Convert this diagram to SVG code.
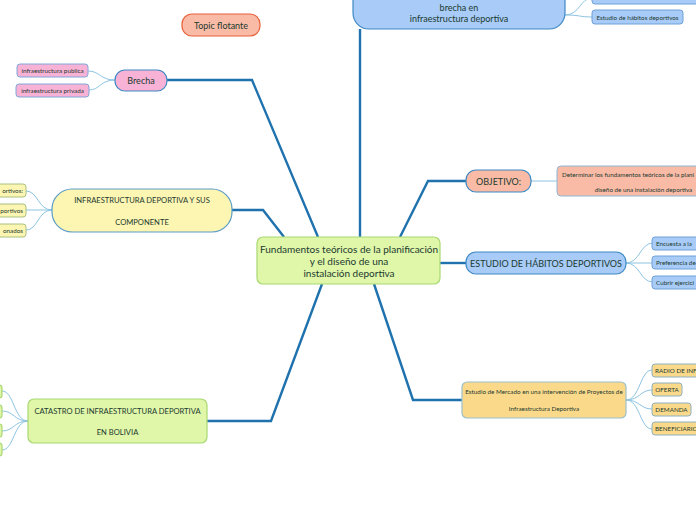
<svg xmlns="http://www.w3.org/2000/svg" width="696" height="520" viewBox="0 0 696 520">
<style>
text{font-family:Lato,"Open Sans","Liberation Sans",sans-serif;fill:#1b3a30;text-anchor:middle;dominant-baseline:central}
.m{font-size:9px}
.c{font-size:10px}
.s{font-size:6.3px}
.main{fill:none;stroke:#1f72ad;stroke-width:2.4;stroke-linejoin:miter}
.thin{fill:none;stroke:#8cc4e2;stroke-width:1}
.blue{fill:#a8cbf7;stroke:#3f89c4;stroke-width:1.2}
.pink{fill:#f8b2d6;stroke:#3f89c4;stroke-width:1.2}
.pinks{fill:#f8b2d6;stroke:#7fa8d8;stroke-width:1}
.yel{fill:#fdf5b2;stroke:#5a9cc8;stroke-width:1.2}
.yels{fill:#fdf5b2;stroke:#a8c080;stroke-width:1}
.grn{fill:#e0f6a9;stroke:#a8d872;stroke-width:1.2}
.org{fill:#fbd98b;stroke:#9cc0cc;stroke-width:1.2}
.orgs{fill:#fbd98b;stroke:#8cb0c0;stroke-width:1}
.sal{fill:#f9bba6;stroke:#3f89c4;stroke-width:1.2}
.sals{fill:#f9bba6;stroke:#8cb8d8;stroke-width:1}
.blues{fill:#a8cbf7;stroke:#6fa0d8;stroke-width:1}
</style>
<g id="connectors">
<polyline class="main" points="360,29 360,237"/>
<polyline class="main" points="167,80 252,80 318,237"/>
<polyline class="main" points="232,210 263,210 284,237"/>
<polyline class="main" points="207,421 271,421 322,284"/>
<polyline class="main" points="466,181 428,181 400,237"/>
<polyline class="main" points="466,263 440,263"/>
<polyline class="main" points="462,400 413,400 374,284"/>
<path class="thin" d="M565,15 C580,15 580,-2 592,-2"/>
<path class="thin" d="M565,15 C580,15 580,17 592,17"/>
<path class="thin" d="M115,80 C100,80 100,71 88,71"/>
<path class="thin" d="M115,80 C100,80 100,90 89,90"/>
<path class="thin" d="M52,210 C38,210 38,191 26,191"/>
<path class="thin" d="M52,210 L26,210"/>
<path class="thin" d="M52,210 C38,210 38,230 26,230"/>
<path class="thin" d="M28,421 C14,421 14,391 2,391"/>
<path class="thin" d="M28,421 C14,421 14,411 2,411"/>
<path class="thin" d="M28,421 C14,421 14,431 2,431"/>
<path class="thin" d="M28,421 C14,421 14,450 2,450"/>
<path class="thin" d="M531,181 L557,181"/>
<path class="thin" d="M626,263 C640,263 640,243 653,243"/>
<path class="thin" d="M626,263 L653,263"/>
<path class="thin" d="M626,263 C640,263 640,282 653,282"/>
<path class="thin" d="M626,400 C640,400 640,370 652,370"/>
<path class="thin" d="M626,400 C640,400 640,390 652,390"/>
<path class="thin" d="M626,400 C640,400 640,409 652,409"/>
<path class="thin" d="M626,400 C640,400 640,429 652,429"/>
</g>
<g id="central">
<rect x="257" y="237" width="183" height="47" rx="6" class="grn"/>
<text class="c" x="349" y="249">Fundamentos teóricos de la planificación</text>
<text class="c" x="349" y="261">y el diseño de una</text>
<text class="c" x="349" y="273">instalación deportiva</text>
</g>
<g id="top">
<rect x="353" y="-30" width="212" height="59" rx="16" class="blue"/>
<text class="m" x="459" y="7">brecha en</text>
<text class="m" x="459" y="18">infraestructura deportiva</text>
</g>
<g id="top-child1"><rect x="592" y="-9" width="120" height="13" rx="3" class="blues"/></g>
<g id="top-child2">
<rect x="592" y="10" width="91" height="14" rx="3" class="blues"/>
<text class="s" x="637.5" y="17">Estudio de hábitos deportivos</text>
</g>
<g id="topic-flotante">
<rect x="182" y="14" width="78" height="22" rx="10" fill="#f9bba6" stroke="#e8603a" stroke-width="1.2"/>
<text class="m" x="221" y="25">Topic flotante</text>
</g>
<g id="brecha">
<rect x="115" y="70" width="52" height="21" rx="10" class="pink"/>
<text class="m" x="141" y="80.5">Brecha</text>
</g>
<g id="brecha-publica">
<rect x="17" y="64" width="71" height="13" rx="3" class="pinks"/>
<text class="s" x="52.5" y="70.5">infraestructura publica</text>
</g>
<g id="brecha-privada">
<rect x="16" y="84" width="73" height="13" rx="3" class="pinks"/>
<text class="s" x="52.5" y="90.5">infraestructura privada</text>
</g>
<g id="infraestructura">
<rect x="52" y="189" width="180" height="43" rx="20" class="yel"/>
<text class="s" style="font-size:7.6px" x="142" y="200">INFRAESTRUCTURA DEPORTIVA Y SUS</text>
<text class="s" style="font-size:7.6px" x="142" y="222">COMPONENTE</text>
</g>
<g id="infra-c1"><rect x="-20" y="184" width="46" height="13" rx="3" class="yels"/><text class="s" style="text-anchor:end" x="23" y="190.5">ortivos:</text></g>
<g id="infra-c2"><rect x="-20" y="204" width="46" height="13" rx="3" class="yels"/><text class="s" style="text-anchor:end" x="23" y="210.5">portivos</text></g>
<g id="infra-c3"><rect x="-20" y="224" width="46" height="13" rx="3" class="yels"/><text class="s" style="text-anchor:end" x="23" y="230.5">onados</text></g>
<g id="catastro">
<rect x="28" y="399" width="179" height="44" rx="6" class="grn"/>
<text class="s" style="font-size:7.6px" x="117.5" y="411">CATASTRO  DE INFRAESTRUCTURA DEPORTIVA</text>
<text class="s" style="font-size:7.6px" x="117.5" y="432">EN BOLIVIA</text>
</g>
<g id="cat-c1"><rect x="-20" y="385" width="22" height="13" rx="3" class="grn"/></g>
<g id="cat-c2"><rect x="-20" y="405" width="22" height="13" rx="3" class="grn"/></g>
<g id="cat-c3"><rect x="-20" y="424" width="22" height="13" rx="3" class="grn"/></g>
<g id="cat-c4"><rect x="-20" y="443" width="22" height="13" rx="3" class="grn"/></g>
<g id="objetivo">
<rect x="466" y="170" width="65" height="22" rx="10" class="sal"/>
<text class="m" x="498.5" y="181">OBJETIVO:</text>
</g>
<g id="objetivo-child">
<rect x="557" y="166" width="175" height="30" rx="4" class="sals"/>
<text class="s" style="text-anchor:start" x="562" y="174">Determinar los fundamentos teóricos de la plani</text>
<text class="s" x="643.5" y="189">diseño de una instalación deportiva</text>
</g>
<g id="estudio-habitos">
<rect x="466" y="252" width="160" height="22" rx="10" class="blue"/>
<text class="m" x="546" y="263">ESTUDIO DE HÁBITOS DEPORTIVOS</text>
</g>
<g id="eh-c1"><rect x="652" y="237" width="70" height="13" rx="3" class="blues"/><text class="s" style="text-anchor:start" x="656" y="243.5">Encuesta a la</text></g>
<g id="eh-c2"><rect x="652" y="256" width="70" height="13" rx="3" class="blues"/><text class="s" style="text-anchor:start" x="656" y="262.5">Preferencia de</text></g>
<g id="eh-c3"><rect x="652" y="276" width="70" height="13" rx="3" class="blues"/><text class="s" style="text-anchor:start" x="656" y="282.5">Cubrir ejercici</text></g>
<g id="mercado">
<rect x="462" y="382" width="164" height="36" rx="5" class="org"/>
<text class="s" x="544" y="391">Estudio de Mercado en una intervención de Proyectos de</text>
<text class="s" x="544" y="408">Infraestructura Deportiva</text>
</g>
<g id="m-c1"><rect x="652" y="364" width="70" height="13" rx="3" class="orgs"/><text class="s" style="text-anchor:start" x="655" y="370.5">RADIO DE INF</text></g>
<g id="m-c2"><rect x="652" y="383" width="30" height="13" rx="3" class="orgs"/><text class="s" x="667" y="389.5">OFERTA</text></g>
<g id="m-c3"><rect x="652" y="403" width="39" height="13" rx="3" class="orgs"/><text class="s" x="671.5" y="409.5">DEMANDA</text></g>
<g id="m-c4"><rect x="652" y="422" width="70" height="13" rx="3" class="orgs"/><text class="s" style="text-anchor:start" x="655" y="428.5">BENEFICIARIO</text></g>
</svg>
